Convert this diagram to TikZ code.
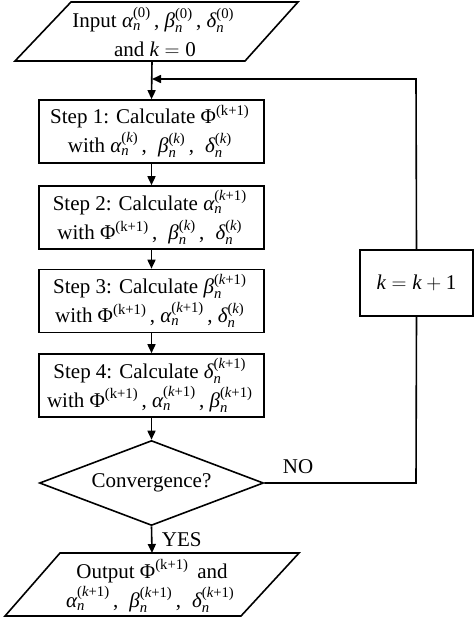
\documentclass[tikz,border=0pt]{standalone}
\usepackage{amsmath}
\usepackage{fontspec}
\setmainfont{Liberation Serif}
\usetikzlibrary{shapes.geometric,arrows.meta}
\tikzset{
  flow/.style={line width=1.6pt},
  arr/.style={flow,-{Triangle[length=9pt,width=8pt]}},
  big/.style={font=\fontsize{21}{29}\selectfont},
  stepbox/.style={draw,flow,rectangle,minimum width=225pt,minimum height=63pt,inner sep=0pt,align=center,big},
  txt/.style={inner sep=0pt,align=center,big},
  dec/.style={draw,flow,diamond,minimum width=224pt,minimum height=85pt,shape aspect=2.6,inner sep=0pt,big},
}
\newcommand{\vz}[1]{\text{\itshape #1}_{\text{\itshape n}}^{\text{(0)}}\,}
\newcommand{\vr}[1]{\text{\itshape #1}_{\text{\itshape n}}^{\text{(\itshape k\upshape)}}\,}
\newcommand{\vrk}[1]{\text{\itshape #1}_{\text{\itshape n}}^{\text{(\itshape k\upshape+1)}}\,}
\newcommand{\PH}{\text{Φ}^{\text{(k+1)}}\,}
\newcommand{\kv}{\text{\itshape k}}
\begin{document}
\begin{tikzpicture}[x=1pt,y=-1pt]
\useasboundingbox (0,0) rectangle (474,618);
% input
\draw[flow] (71,2) -- (298,2) -- (245,61) -- (15,61) -- cycle;
\node[txt] (in) at (155,32) {Input $\vz{α}$, $\vz{β}$, $\vz{δ}$\\and $\kv=\text{0}$};
\coordinate (inB) at (152,61);
% steps
\node[stepbox] (s1) at (151.5,131.5) {Step 1: Calculate $\PH$\\with $\vr{α}$,\; $\vr{β}$,\; $\vr{δ}$};
\node[stepbox] (s2) at (151.5,217.5) {Step 2: Calculate $\vrk{α}$\\with $\PH$,\; $\vr{β}$,\; $\vr{δ}$};
\node[stepbox] (s3) at (151.5,301) {Step 3: Calculate $\vrk{β}$\\with $\PH$, $\vrk{α}$, $\vr{δ}$};
\node[stepbox] (s4) at (151.5,385.5) {Step 4: Calculate $\vrk{δ}$\\with $\PH$, $\vrk{α}$, $\vrk{β}$};
\node[dec] (cv) at (151.5,483) {Convergence?};
\node[draw,flow,rectangle,minimum width=113pt,minimum height=66pt,inner sep=0pt,big] (inc) at (416.5,283) {$\kv=\kv+\text{1}$};
% output
\draw[flow] (60,553) -- (299,553) -- (241,616) -- (5,616) -- cycle;
\node[txt] (out) at (152,586) {Output $\PH$ and\\$\vrk{α}$,\; $\vrk{β}$,\; $\vrk{δ}$};
\coordinate (outT) at (152,553);
% connectors
\coordinate (join) at (152,79);
\coordinate (tr) at (416,79);
\coordinate (br) at (416,483);
\draw[arr] (inB) -- (s1.north);
\draw[arr] (s1) -- (s2);
\draw[arr] (s2) -- (s3);
\draw[arr] (s3) -- (s4);
\draw[arr] (s4) -- (cv);
\draw[arr] (cv.south) -- (outT) node[midway,right=6pt,big] (yes) {YES};
\draw[flow] (cv.east) -- (br) -- (inc.south);
\draw[arr] (inc.north) -- (tr) -- (join);
\node[big] (no) at (298,467) {NO};
\end{tikzpicture}
\end{document}
